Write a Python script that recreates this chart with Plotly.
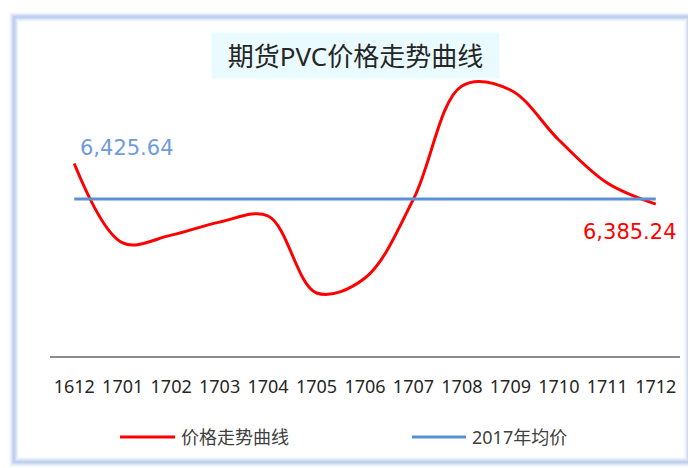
import plotly.graph_objects as go

# 月份（合约月）
months = ["1612", "1701", "1702", "1703", "1704", "1705", "1706",
          "1707", "1708", "1709", "1710", "1711", "1712"]
# 期货PVC价格（元/吨）
prices = [6710, 6075, 6137, 6241, 6290, 5674, 5794,
          6425, 7330, 7298, 6898, 6554, 6385.24]
# 2017年均价
avg_2017 = 6425.64
avg_line = [avg_2017] * len(months)

# the page body has an 8px margin, so the figure is drawn 8px smaller
OFF = 8
W, H = 696 - OFF, 468 - OFF
L, R, T, B = 50 - OFF, 16, 60 - OFF, 112
PW, PH = W - L - R, H - T - B

def px_x(p):
    # p: pixel in the 696x468 window
    return (p - OFF - L) / PW

def px_y(p):
    return (H - B - (p - OFF)) / PH

FONT = "Noto Sans, Noto Sans CJK SC, sans-serif"
LABEL_FONT = "DejaVu Sans, sans-serif"

fig = go.Figure()
fig.add_trace(go.Scatter(
    x=months, y=prices, name="价格走势曲线", mode="lines",
    line=dict(color="#FF0000", width=3, shape="spline", smoothing=1.0),
))
fig.add_trace(go.Scatter(
    x=months, y=avg_line, name="2017年均价", mode="lines",
    line=dict(color="#5B8FD6", width=3),
))

# 数据标签
fig.add_annotation(x=0, y=avg_line[0], xref="x", yref="y",
                   text=f"{avg_line[0]:,.2f}", showarrow=False,
                   xanchor="left", xshift=4, yshift=51,
                   font=dict(family=LABEL_FONT, size=21, color="#6F9BDB"))
fig.add_annotation(x=len(months) - 1, y=prices[-1], xref="x", yref="y",
                   text=f"{prices[-1]:,.2f}", showarrow=False,
                   xanchor="right", xshift=23, yshift=-28,
                   font=dict(family=LABEL_FONT, size=21, color="#FF0000"))

# 标题（带浅色底）
fig.add_annotation(x=px_x(355), y=px_y(56), xref="paper", yref="paper",
                   text="期货PVC价格走势曲线", showarrow=False,
                   xanchor="center", yanchor="middle",
                   width=285, height=43, bgcolor="#EAFBFF",
                   font=dict(family=FONT, size=26, color="#262626"))

# 图例
legend_items = [("价格走势曲线", "#FF0000", 120, 175),
                ("2017年均价", "#5B8FD6", 412, 466)]
for name, color, a, b in legend_items:
    fig.add_shape(type="line", xref="paper", yref="paper",
                  x0=px_x(a), x1=px_x(b), y0=px_y(437), y1=px_y(437),
                  line=dict(color=color, width=3))
    fig.add_annotation(x=px_x(b + 4), y=px_y(437), xref="paper", yref="paper",
                       text=name, showarrow=False,
                       xanchor="left", yanchor="middle",
                       font=dict(family=FONT, size=18, color="#404040"))

# 外框
for w, c in [(9, "#EEF3FB"), (6, "#DCE6F6"), (3, "#BFD1EE")]:
    fig.add_shape(type="rect", xref="paper", yref="paper",
                  x0=px_x(14), x1=px_x(689), y0=px_y(17), y1=px_y(462),
                  line=dict(color=c, width=w), layer="below")

fig.update_layout(
    width=W, height=H,
    margin=dict(l=L, r=R, t=T, b=B),
    paper_bgcolor="white", plot_bgcolor="white",
    font=dict(family=FONT, color="#262626"),
    showlegend=False,
    xaxis=dict(type="category", range=[-0.5, len(months) - 0.5],
               showline=True, linecolor="#8C8C8C", linewidth=1.5,
               showgrid=False, ticks="", ticklabelstandoff=14,
               tickfont=dict(size=18, color="#262626")),
    yaxis=dict(visible=False, range=[5170, 7538], showgrid=False),
)

fig.write_html("out.html")
